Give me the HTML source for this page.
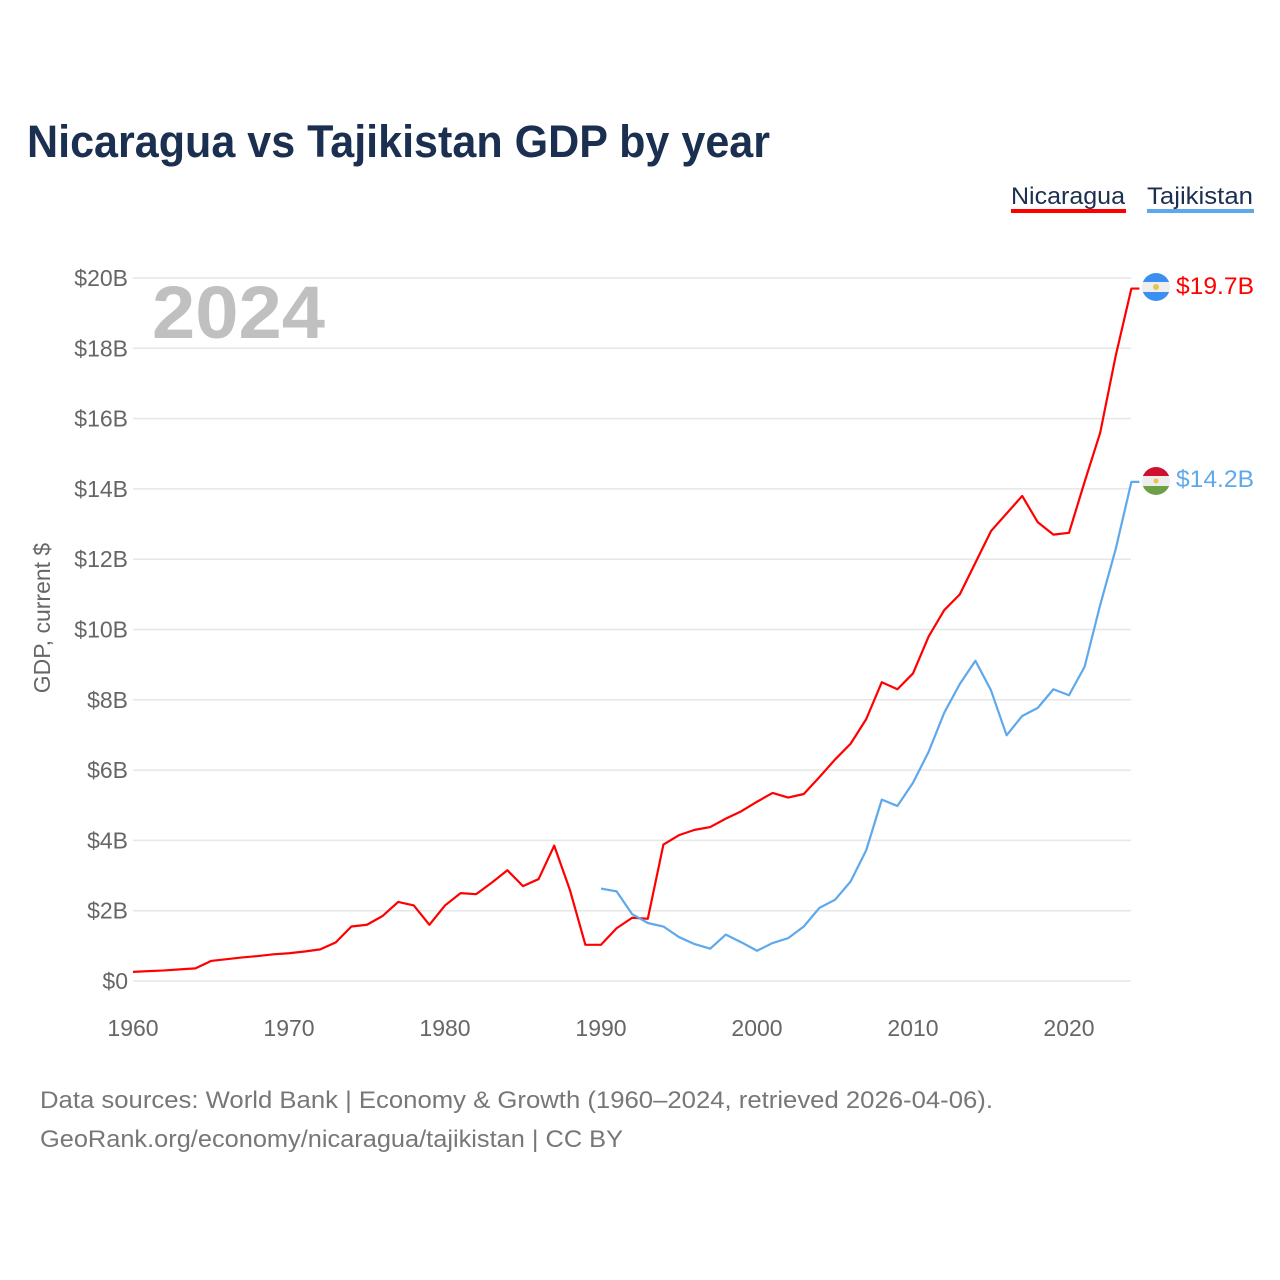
<!DOCTYPE html>
<html><head><meta charset="utf-8"><style>
body{margin:0;background:#fff;font-family:"Liberation Sans",sans-serif;}
#wrap{position:relative;width:1280px;height:1280px;overflow:hidden;}
</style></head><body>
<div id="wrap">
<svg id="chart" width="1280" height="1280" xmlns="http://www.w3.org/2000/svg">
<text x="27" y="157" font-size="45" font-weight="bold" fill="#1b2f50" textLength="743" lengthAdjust="spacingAndGlyphs">Nicaragua vs Tajikistan GDP by year</text>
<g><text x="1011" y="204" font-size="24" fill="#1b2f50" textLength="114" lengthAdjust="spacingAndGlyphs">Nicaragua</text><rect x="1011" y="209" width="115" height="4" fill="#ff0000"/></g>
<g><text x="1147" y="204" font-size="24" fill="#1b2f50" textLength="106" lengthAdjust="spacingAndGlyphs">Tajikistan</text><rect x="1147" y="209" width="107" height="4" fill="#5ea8ec"/></g>
<text x="152" y="338" font-size="74" font-weight="bold" fill="#c0c0c0" textLength="173" lengthAdjust="spacingAndGlyphs">2024</text>
<text transform="translate(50,618) rotate(-90)" text-anchor="middle" font-size="23" fill="#666">GDP, current $</text>
<g id="grid"></g><g id="yt"></g><g id="xt"></g><g id="lines"></g>
<g><clipPath id="c1"><circle cx="1156" cy="287" r="14"/></clipPath><g clip-path="url(#c1)"><rect x="1142" y="273" width="28" height="28" fill="#eee"/><rect x="1142" y="273" width="28" height="9" fill="#3b8ff0"/><rect x="1142" y="292" width="28" height="9" fill="#3b8ff0"/><circle cx="1156" cy="287" r="3" fill="#e8c44a"/></g></g>
<g><clipPath id="c2"><circle cx="1156" cy="481" r="14"/></clipPath><g clip-path="url(#c2)"><rect x="1142" y="467" width="28" height="28" fill="#eee"/><rect x="1142" y="467" width="28" height="9" fill="#d0102f"/><rect x="1142" y="486" width="28" height="9" fill="#6da046"/><circle cx="1156" cy="481" r="2.5" fill="#e8c44a"/></g></g>
<text x="1176" y="294" font-size="24" fill="#ff0000" textLength="78" lengthAdjust="spacingAndGlyphs">$19.7B</text>
<text x="1176" y="487" font-size="24" fill="#5ea8ec" textLength="78" lengthAdjust="spacingAndGlyphs">$14.2B</text>
<text x="40" y="1108" font-size="24" fill="#777" textLength="953" lengthAdjust="spacingAndGlyphs">Data sources: World Bank | Economy &amp; Growth (1960–2024, retrieved 2026-04-06).</text>
<text x="40" y="1147" font-size="24" fill="#777" textLength="583" lengthAdjust="spacingAndGlyphs">GeoRank.org/economy/nicaragua/tajikistan | CC BY</text>
</svg>
</div>
<script>
const yTicks=[0,2,4,6,8,10,12,14,16,18,20];
const xTicks=[1960,1970,1980,1990,2000,2010,2020];
const nicYears=[];for(let y=1960;y<=2024;y++)nicYears.push(y);
const nicValues=[0.26,0.28,0.30,0.33,0.36,0.57,0.62,0.67,0.71,0.76,0.79,0.84,0.90,1.10,1.55,1.60,1.85,2.25,2.15,1.60,2.15,2.50,2.47,2.80,3.15,2.70,2.90,3.85,2.60,1.03,1.03,1.50,1.80,1.77,3.88,4.15,4.30,4.38,4.62,4.83,5.10,5.35,5.22,5.32,5.80,6.30,6.75,7.45,8.50,8.30,8.75,9.80,10.55,11.00,11.90,12.80,13.30,13.80,13.05,12.70,12.75,14.20,15.60,17.80,19.70];
const tjkYears=[];for(let y=1990;y<=2024;y++)tjkYears.push(y);
const tjkValues=[2.63,2.55,1.90,1.65,1.55,1.25,1.05,0.92,1.32,1.10,0.86,1.08,1.22,1.55,2.08,2.31,2.83,3.72,5.16,4.98,5.64,6.52,7.63,8.45,9.11,8.27,6.99,7.54,7.77,8.30,8.13,8.94,10.70,12.30,14.20];
const NS="http://www.w3.org/2000/svg";
const xS=y=>133+(y-1960)*15.6;
const yS=v=>981-v*35.15;
function mk(t,a,p){const e=document.createElementNS(NS,t);for(const k in a)e.setAttribute(k,a[k]);p.appendChild(e);return e;}
const grid=document.getElementById('grid'),yt=document.getElementById('yt'),xt=document.getElementById('xt'),lines=document.getElementById('lines');
yTicks.forEach(v=>{
 const l=mk('line',{x1:133,x2:1131,y1:yS(v),y2:yS(v),stroke:'#e6e6e6','stroke-width':1.5},grid);
 
 
 const t=mk('text',{x:128,y:yS(v)+8,'text-anchor':'end','font-size':23,fill:'#666'},yt);
 t.textContent='$'+v+(v?'B':'');
 
 
});
xTicks.forEach(y=>{
 const t=mk('text',{x:xS(y),y:1036,'text-anchor':'middle','font-size':23,fill:'#666'},xt);
 t.textContent=y;
 
 
});
function line(xs,vs,col,name){
 let d=xs.map((y,i)=>(i?'L':'M')+xS(y)+','+yS(vs[i])).join(' ');
 d+=' L'+(xS(xs[xs.length-1])+8)+','+yS(vs[vs.length-1]);
 const p=mk('path',{d:d,fill:'none',stroke:col,'stroke-width':2.2,'stroke-linejoin':'round'},lines);
 
 
}
line(nicYears,nicValues,'#ff0000','nicaragua-line');
line(tjkYears,tjkValues,'#5ea8ec','tajikistan-line');
</script>
</body></html>
